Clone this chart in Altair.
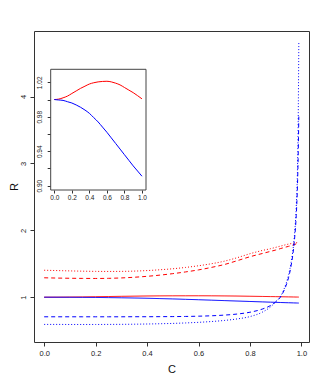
import altair as alt
import pandas as pd

# ---------------- data ----------------
C = [0.0, 0.05, 0.1, 0.15, 0.2, 0.25, 0.3, 0.35, 0.4, 0.45, 0.5, 0.55, 0.6, 0.65,
     0.7, 0.75, 0.8, 0.85, 0.88, 0.9, 0.92, 0.94, 0.95, 0.96, 0.97, 0.975, 0.98,
     0.985, 0.9875, 0.99]

red_solid = [1.000, 1.0005, 1.002, 1.004, 1.007, 1.010, 1.013, 1.0155, 1.018, 1.0195,
             1.0205, 1.021, 1.0212, 1.0205, 1.019, 1.017, 1.014, 1.011, 1.009, 1.008,
             1.0066, 1.0052, 1.0045, 1.0038, 1.003, 1.0026, 1.0023, 1.0019, 1.0017, 1.0015]
blue_solid = [1.000, 0.9995, 0.999, 0.9975, 0.996, 0.9937, 0.991, 0.9878, 0.984, 0.979,
              0.974, 0.968, 0.962, 0.9555, 0.949, 0.9425, 0.936, 0.9295, 0.9256, 0.923,
              0.9205, 0.918, 0.917, 0.9158, 0.9146, 0.914, 0.9134, 0.9128, 0.9125, 0.9122]
red_dashed = [1.290, 1.286, 1.283, 1.281, 1.280, 1.282, 1.288, 1.298, 1.312, 1.330,
              1.352, 1.378, 1.408, 1.445, 1.488, 1.545, 1.605, 1.655, 1.685, 1.705,
              1.728, 1.750, 1.760, 1.771, 1.783, 1.790, 1.797, 1.804, 1.808, 1.812]
red_dotted = [1.403, 1.398, 1.393, 1.389, 1.386, 1.385, 1.386, 1.390, 1.398, 1.410,
              1.425, 1.445, 1.470, 1.500, 1.538, 1.590, 1.650, 1.700, 1.725, 1.745,
              1.765, 1.785, 1.794, 1.801, 1.808, 1.811, 1.814, 1.817, 1.818, 1.820]
blue_dashed = [0.707, 0.707, 0.707, 0.707, 0.707, 0.707, 0.707, 0.708, 0.708, 0.709,
               0.710, 0.712, 0.716, 0.722, 0.732, 0.748, 0.775, 0.825, 0.875, 0.930,
               1.010, 1.170, 1.290, 1.470, 1.740, 1.940, 2.220, 2.700, 3.100, 3.700]
blue_dotted = [0.593, 0.593, 0.592, 0.592, 0.592, 0.593, 0.594, 0.596, 0.599, 0.603,
               0.608, 0.615, 0.624, 0.636, 0.652, 0.675, 0.710, 0.780, 0.855, 0.930,
               1.020, 1.200, 1.330, 1.520, 1.800, 2.020, 2.350, 2.950, 3.600, 4.800]

C_inset = [0.0, 0.05, 0.1, 0.15, 0.2, 0.25, 0.3, 0.35, 0.4, 0.45, 0.5, 0.55, 0.6,
           0.65, 0.7, 0.75, 0.8, 0.85, 0.9, 0.95, 1.0]
red_inset = [1.000, 1.0005, 1.002, 1.004, 1.007, 1.010, 1.013, 1.0155, 1.018, 1.0195,
             1.0205, 1.021, 1.0212, 1.0205, 1.019, 1.017, 1.014, 1.011, 1.008, 1.0045, 1.0008]
blue_inset = [1.000, 0.9995, 0.999, 0.9975, 0.996, 0.9937, 0.991, 0.9878, 0.984, 0.979,
              0.974, 0.968, 0.962, 0.9555, 0.949, 0.9425, 0.936, 0.9295, 0.923, 0.917, 0.911]

main_x_ticks = [0.0, 0.2, 0.4, 0.6, 0.8, 1.0]
main_y_ticks = [1, 2, 3, 4]
inset_x_ticks = [0.0, 0.2, 0.4, 0.6, 0.8, 1.0]
inset_y_ticks = [0.90, 0.92, 0.94, 0.96, 0.98, 1.00, 1.02]
inset_y_labels = ["1.02", "0.98", "0.94", "0.90"]

series_names = ["red solid", "blue solid", "red dashed", "red dotted", "blue dashed", "blue dotted"]
series_colors = ["#FF0000", "#0000FF", "#FF0000", "#FF0000", "#0000FF", "#0000FF"]
series_dashes = [[1, 0], [1, 0], [4, 3], [1, 2], [4, 3], [1, 2]]
series_values = [red_solid, blue_solid, red_dashed, red_dotted, blue_dashed, blue_dotted]

rows = []
for name, vals in zip(series_names, series_values):
    for c, v in zip(C, vals):
        rows.append({"C": c, "R": v, "series": name})
df_main = pd.DataFrame(rows)

rows = []
for name, vals in [("red solid", red_inset), ("blue solid", blue_inset)]:
    for c, v in zip(C_inset, vals):
        rows.append({"C": c, "R": v, "series": name})
df_inset = pd.DataFrame(rows)

# ---------------- layout ----------------
W, H = 275, 311
main_xdom = [-0.0396, 1.0296]
main_ydom = [0.33, 4.98]
inset_xdom = [-0.041, 1.046]
inset_ydom = [0.895, 1.0351]
inset_xrange = [16.7, 112]
inset_yrange = [159, 38.3]

df_box = pd.DataFrame({"x0": [inset_xdom[0]], "x1": [inset_xdom[1]],
                       "y0": [inset_ydom[0]], "y1": [inset_ydom[1]]})

color_scale = alt.Scale(domain=series_names, range=series_colors)
dash_scale = alt.Scale(domain=series_names, range=series_dashes)

main = alt.Chart(df_main).mark_line(strokeWidth=1, interpolate="monotone", clip=True).encode(
    x=alt.X("C:Q", scale=alt.Scale(domain=main_xdom, nice=False, zero=False),
            axis=alt.Axis(values=main_x_ticks, format=".1f", title="C", orient="bottom",
                          tickSize=4, labelPadding=3, labelFontSize=7.5, domain=False,
                          titleFontSize=11, titleFontWeight="normal", titleY=27,
                          titleBaseline="middle", labelOverlap=False)),
    y=alt.Y("R:Q", scale=alt.Scale(domain=main_ydom, nice=False, zero=False),
            axis=alt.Axis(values=main_y_ticks, format="d", title="R", orient="left",
                          tickSize=4, labelPadding=5, labelFontSize=7.5, domain=False,
                          labelAngle=270, labelAlign="center", labelBaseline="alphabetic",
                          titleFontSize=11, titleFontWeight="normal", titleAngle=270,
                          titleX=-20, titleY=155.5, titleAlign="center",
                          titleBaseline="middle", labelOverlap=False)),
    color=alt.Color("series:N", scale=color_scale, legend=None),
    strokeDash=alt.StrokeDash("series:N", scale=dash_scale, legend=None),
    detail="series:N",
)

inset_xscale = alt.Scale(domain=inset_xdom, range=inset_xrange, nice=False, zero=False)
inset_yscale = alt.Scale(domain=inset_ydom, range=inset_yrange, nice=False, zero=False)
inset_xaxis = alt.Axis(values=inset_x_ticks, format=".1f", title=None, orient="bottom",
                       offset=-(H - inset_yrange[0]), tickSize=3, labelPadding=1.5,
                       labelFontSize=6.5, domain=False, labelOverlap=False)
inset_yaxis = alt.Axis(values=inset_y_ticks, format=".2f", title=None, orient="left",
                       offset=-inset_xrange[0], tickSize=3.5, labelPadding=5.5,
                       labelFontSize=6.5, domain=False, labelAngle=270,
                       labelAlign="center", labelBaseline="alphabetic", labelOverlap=False,
                       labelExpr="indexof(" + str(inset_y_labels) + ", datum.label) >= 0 ? datum.label : ''")

inset_box = alt.Chart(df_box).mark_rect(fill="white", stroke="#444", strokeWidth=1).encode(
    x=alt.X("x0:Q", scale=inset_xscale, axis=inset_xaxis),
    x2="x1:Q",
    y=alt.Y("y0:Q", scale=inset_yscale, axis=inset_yaxis),
    y2="y1:Q",
)
inset_lines = alt.Chart(df_inset).mark_line(strokeWidth=1, interpolate="monotone").encode(
    x=alt.X("C:Q", scale=inset_xscale, axis=inset_xaxis),
    y=alt.Y("R:Q", scale=inset_yscale, axis=inset_yaxis),
    color=alt.Color("series:N", scale=color_scale, legend=None),
    detail="series:N",
)
inset = alt.layer(inset_box, inset_lines)

chart = alt.layer(main, inset).resolve_scale(
    x="independent", y="independent"
).properties(
    width=W, height=H,
    padding={"left": 26, "top": 23, "right": 10, "bottom": 34},
    autosize=alt.AutoSizeParams(type="none"),
).configure_view(
    stroke="#333", strokeWidth=1
).configure_axis(
    grid=False, labelFont="Liberation Sans", titleFont="Liberation Sans",
    labelColor="#222", titleColor="#111", tickColor="#333"
)

chart.save("out.html", embed_options={"renderer": "svg", "actions": False})
